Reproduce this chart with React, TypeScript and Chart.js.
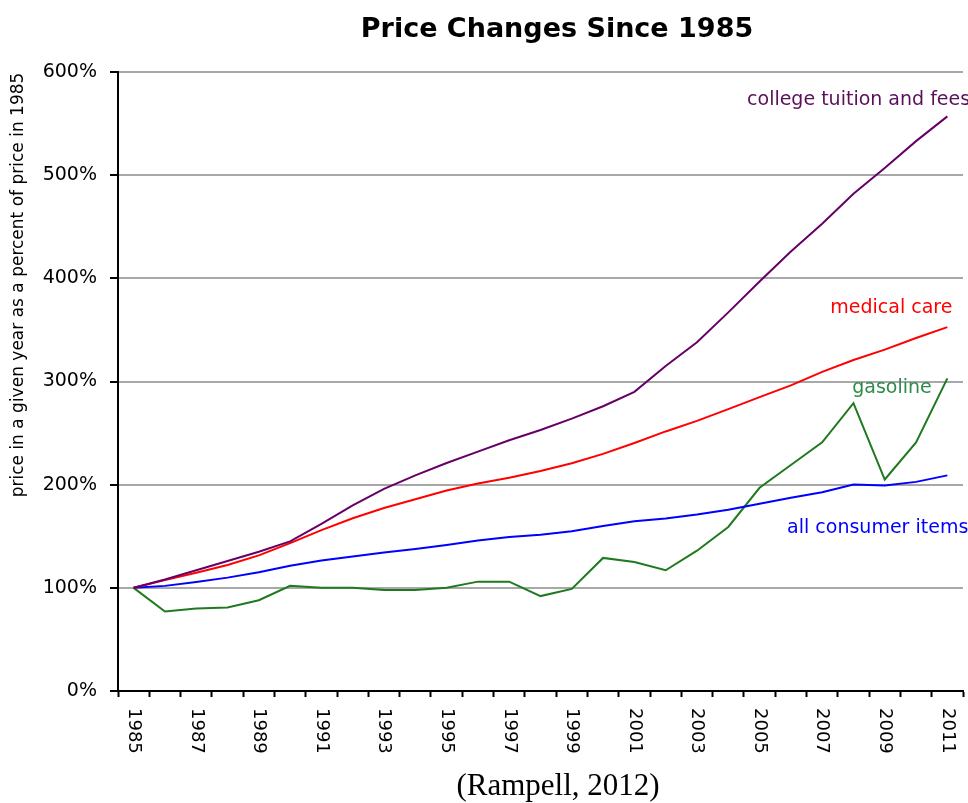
import React, { useEffect, useRef } from 'react';
import { Chart, registerables } from 'chart.js';

Chart.register(...registerables);

const years = [
  '1985', '1986', '1987', '1988', '1989', '1990', '1991', '1992', '1993',
  '1994', '1995', '1996', '1997', '1998', '1999', '2000', '2001', '2002',
  '2003', '2004', '2005', '2006', '2007', '2008', '2009', '2010', '2011',
];

const tuition = [
  100, 108, 117, 126, 135, 145, 162, 180, 196, 209, 221, 232, 243, 253,
  264, 276, 290, 315, 338, 367, 397, 426, 453, 482, 507, 533, 557,
];
const medical = [
  100, 107.5, 114.6, 122.1, 131.5, 143.4, 155.9, 167.5, 177.4, 185.9, 194.3,
  201.1, 206.7, 213.3, 220.8, 229.8, 240.4, 251.6, 261.8, 273.2, 284.8, 296.2,
  309.3, 320.8, 330.9, 342.2, 352.7,
];
const gasoline = [
  100, 77, 80, 81, 88, 102, 100, 100, 98, 98, 100, 106, 106, 92, 99, 129,
  125, 117, 136, 159, 197, 219, 241, 279, 205, 241, 303,
];
const allItems = [
  100, 101.9, 105.6, 109.9, 115.2, 121.5, 126.6, 130.4, 134.3, 137.7, 141.6,
  145.8, 149.2, 151.5, 154.8, 160.0, 164.6, 167.2, 171.0, 175.6, 181.5, 187.4,
  192.7, 200.1, 199.3, 202.7, 209.0,
];

const seriesNames = ['college tuition and fees', 'medical care', 'gasoline', 'all consumer items'];
const seriesColors = ['#660066', '#ff0000', '#1f7a1f', '#0000ff'];
const labelColors = ['#5a0f5a', '#ff0000', '#2e8b4a', '#0000ff'];
// label anchors: left edge as fractional category index, vertical centre as value
const labelIndex = [19.6, 22.26, 22.96, 20.88];
const labelValue = [573, 371, 294, 158];

const titleText = 'Price Changes Since 1985';
const yTitleText = 'price in a given year as a percent of price in 1985';
const captionText = '(Rampell, 2012)';

const FONT = "'DejaVu Sans', sans-serif";

export default function App() {
  const ref = useRef<HTMLCanvasElement | null>(null);

  useEffect(() => {
    document.body.style.margin = '0';
    const canvas = ref.current;
    if (!canvas) return;

    const textPlugin = {
      id: 'texts',
      afterDraw(chart: any) {
        const ctx = chart.ctx;
        const xs = chart.scales.x;
        const ys = chart.scales.y;
        ctx.save();
        // title
        ctx.fillStyle = '#000';
        ctx.font = `bold 27px ${FONT}`;
        ctx.textAlign = 'center';
        ctx.textBaseline = 'alphabetic';
        ctx.fillText(titleText, 557, 37);
        // y title
        ctx.save();
        ctx.translate(19, 285);
        ctx.rotate(-Math.PI / 2);
        ctx.font = `17px ${FONT}`;
        ctx.textAlign = 'center';
        ctx.textBaseline = 'middle';
        ctx.fillText(yTitleText, 0, 0);
        ctx.restore();
        // x tick labels (rotated clockwise)
        ctx.font = `18px ${FONT}`;
        years.forEach((y, i) => {
          if (i % 2 !== 0) return;
          const x = xs.getPixelForTick(i);
          ctx.save();
          ctx.translate(x, 708);
          ctx.rotate(Math.PI / 2);
          ctx.textAlign = 'left';
          ctx.textBaseline = 'middle';
          ctx.fillStyle = '#000';
          ctx.fillText(y, 0, 0);
          ctx.restore();
        });
        // series labels
        ctx.font = `19px ${FONT}`;
        ctx.textAlign = 'left';
        ctx.textBaseline = 'middle';
        seriesNames.forEach((n, i) => {
          ctx.fillStyle = labelColors[i];
          ctx.fillText(n, xs.getPixelForValue(labelIndex[i]), ys.getPixelForValue(labelValue[i]));
        });
        // caption
        ctx.fillStyle = '#000';
        ctx.font = "31px 'Liberation Serif', serif";
        ctx.textAlign = 'center';
        ctx.textBaseline = 'alphabetic';
        ctx.fillText(captionText, 558, 795);
        ctx.restore();
      },
    };

    const mk = (data: number[], i: number) => ({
      label: seriesNames[i],
      data,
      borderColor: seriesColors[i],
      backgroundColor: seriesColors[i],
      borderWidth: 2,
      pointRadius: 0,
      tension: 0,
      fill: false,
    });

    const chart = new Chart(canvas, {
      type: 'line',
      data: {
        labels: years,
        datasets: [mk(tuition, 0), mk(medical, 1), mk(allItems, 3), mk(gasoline, 2)],
      },
      plugins: [textPlugin],
      options: {
        animation: false,
        responsive: false,
        maintainAspectRatio: false,
        layout: { padding: { top: 72, right: 5, left: 0, bottom: 0 } },
        plugins: {
          legend: { display: false },
          title: { display: false },
          tooltip: { enabled: false },
        },
        scales: {
          x: {
            type: 'category',
            offset: true,
            grid: {
              drawOnChartArea: false,
              offset: true,
              tickLength: 6,
              tickColor: '#000',
              tickWidth: 2,
            },
            border: { color: '#000', width: 2 },
            ticks: { display: false, autoSkip: false },
            afterFit(scale: any) {
              scale.height = 112;
            },
          },
          y: {
            min: 0,
            max: 600,
            ticks: {
              stepSize: 100,
              padding: 13,
              color: '#000',
              font: { family: FONT, size: 19 },
              callback: (v: any) => `${v}%`,
            },
            grid: {
              color: '#a8a8a8',
              lineWidth: 2,
              tickLength: 8,
              tickColor: '#000',
              tickWidth: 2,
            },
            border: { color: '#000', width: 2 },
            afterFit(scale: any) {
              scale.width = 118;
            },
          },
        },
      },
    });
    return () => chart.destroy();
  }, []);

  return (
    <div style={{ width: 968, height: 803 }}>
      <canvas ref={ref} width={968} height={803} style={{ display: 'block', width: 968, height: 803 }} />
    </div>
  );
}
